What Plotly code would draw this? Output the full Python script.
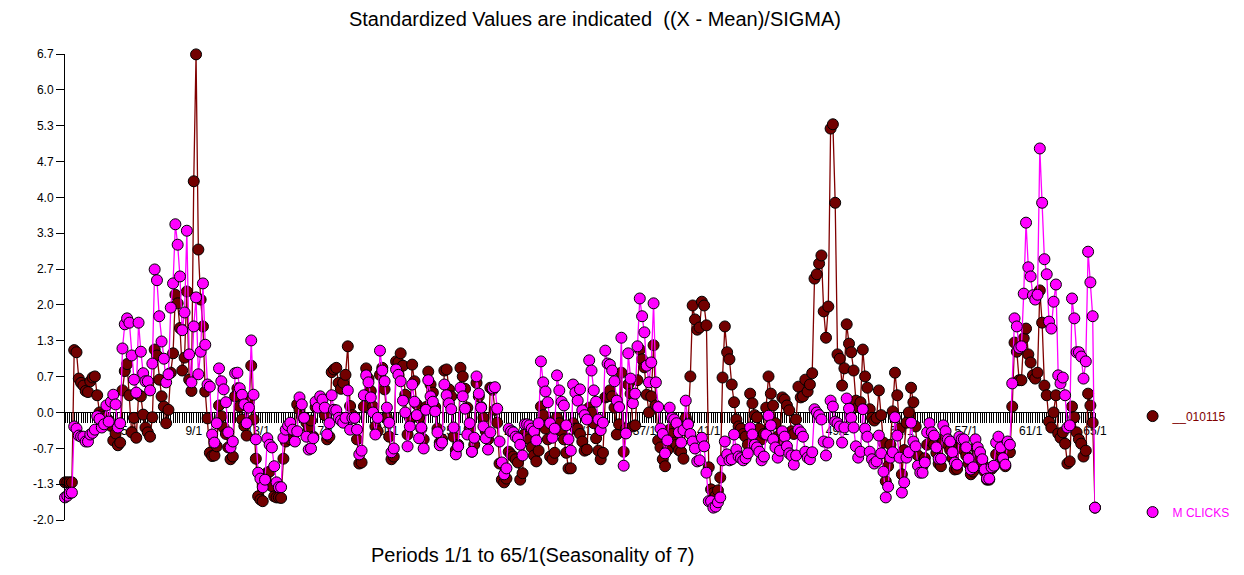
import plotly.graph_objects as go

title_text = "Standardized Values are indicated\u00a0\u00a0((X - Mean)/SIGMA)"
x_title_text = "Periods 1/1 to 65/1(Seasonality of 7)"
series_a_name = "__010115"
series_b_name = "M CLICKS"
seasonality = 7
weeks = 65

series_a = [
    -1.3,-1.3,-1.3,-1.3,1.16,1.12,.63,
    .55,.5,.4,.38,.58,.65,.67,
    .32,0,-.05,-.08,-.1,-.15,-.25,
    -.52,-.39,-.61,-.56,.41,.77,.9,
    .32,-.37,-.1,-.47,.33,.3,-.04,
    -.28,-.37,-.45,-.09,1.17,1.06,.61,
    .3,.11,-.2,.05,.74,1.1,2.19,
    2.03,1.57,.78,1.02,2.25,.61,.4,
    4.3,6.66,3.03,2.1,1.6,.39,-.11,
    -.75,-.81,-.8,-.63,.13,-.07,-.28,
    -.4,-.65,-.87,-.82,.3,.45,.11,
    -.13,-.25,-.43,.2,.87,-.13,-.86,
    -1.56,-1.62,-1.65,-1.25,-1.12,-1.1,-1.37,
    -1.56,-1.58,-1.58,-1.59,-.86,-.54,-.4,
    -.5,-.45,-.35,.15,.05,-.07,-.1,
    -.19,-.3,-.15,-.45,.1,.15,.2,
    .1,-.05,-.5,-.45,.75,.8,.83,
    .55,.44,.55,.7,1.23,.12,-.05,
    -.1,-.5,-.95,-.93,.11,.82,.63,
    .4,.11,-.26,-.35,.7,.83,.43,
    -.1,-.45,-.87,-.82,.95,.93,1.1,
    .87,.33,-.41,-.1,.89,.58,.15,
    -.1,-.3,-.5,.1,.76,.52,.37,
    .1,-.3,-.56,-.5,.78,.8,.43,
    .3,-.45,-.7,-.6,.83,.67,.44,
    .09,-.3,-.73,-.6,.55,.3,.1,
    -.1,-.35,-.5,.46,.42,.05,-.19,
    -.95,-1.25,-1.3,-1.23,-.73,-.78,-.82,
    -.87,-.93,-1.25,-1.13,-.4,-.45,-.5,
    -.65,-.8,-.91,-.71,.11,-.05,-.3,
    -.5,-.82,-.87,-.75,-.1,-.2,-.35,
    -.5,-.75,-1.04,-1.04,-.2,-.3,-.3,
    -.4,-.54,-.71,-.69,.09,0,-.2,
    -.48,-.71,-.87,-.75,.28,.3,.41,
    .3,.09,-.41,-.22,.74,-.73,-.3,
    .52,.35,-.26,-.24,.6,1.17,.99,
    .84,.33,0,.3,1.25,.13,-.52,
    -.65,-.87,-1,-.7,-.32,-.4,-.56,
    -.6,-.7,-.73,-.86,-.1,-.2,.67,
    1.99,1.73,1.54,1.58,2.06,1.99,1.62,
    -1.02,-1.43,-1.5,-1.55,-1.45,-1.21,.65,
    1.6,1.12,.99,.52,.19,-.13,-.26,
    -.3,-.4,-.45,-.6,.35,.17,-.05,
    -.09,-.3,-.5,-.4,.09,.67,.35,
    .13,-.2,-.45,-.5,.28,.24,.13,
    .04,-.35,-.4,-.13,.48,.28,.3,
    .61,.39,.52,.73,2.49,2.57,2.77,
    2.92,1.88,1.39,1.97,5.28,5.36,3.9,
    1.08,1,.5,.82,1.64,1.28,1.12,
    .78,.22,.1,.19,1.17,.67,.46,
    .06,-.1,-.15,-.1,.41,-.05,-.56,
    -1.28,-1,-.6,.02,.74,.32,-.3,
    -1.15,-.7,-.19,0,.46,.19,-.26,
    -.8,-.95,-1,-.85,-.6,-.4,-.55,
    -.6,-.75,-.95,-1,-.55,-.45,-.6,
    -.7,-.85,-1.06,-1.05,-.6,-.6,-.7,
    -.8,-.95,-1.15,-1.1,-.65,-.75,-.85,
    -.95,-1.1,-1.25,-1.25,-1.05,-1,-.78,
    -.55,-.7,-.9,-1,-.7,-.74,.11,
    1.3,1.13,.6,.6,1.38,1.56,1.08,
    .93,.69,.63,.74,2.27,1.67,.5,
    .32,-.17,-.28,0,.32,-.39,-.47,
    -.37,-.58,-.95,-.91,.11,-.09,-.37,
    -.5,-.58,-.82,-.71,.35,.13,-.19,
    -1.77,
]

series_b = [
    -1.58,-1.55,-1.5,-1.49,-.26,-.3,-.43,
    -.45,-.45,-.54,-.54,-.41,-.38,-.32,
    -.07,-.12,-.28,-.22,.13,-.17,.2,
    .33,.15,-.28,-.2,1.19,1.64,1.75,
    1.67,1.06,.61,.37,1.67,1.13,.73,
    .58,.58,.41,.91,2.66,2.46,1.79,
    1.32,1,.56,.71,1.95,2.4,3.5,
    3.12,2.53,1.53,1.86,3.38,1.08,.56,
    1.6,2.14,.71,1.13,2.4,1.26,.52,
    .48,-.41,-.56,-.2,.82,.58,.43,
    .19,-.37,-.65,-.54,.73,.74,.45,
    .33,.15,-.2,.09,1.34,.33,-.5,
    -1.12,-1.23,-1.39,-1.25,-.48,-.6,-.65,
    -1,-1.3,-1.39,-1.39,-.47,-.32,-.24,
    -.19,-.32,-.54,-.35,.28,.15,-.1,
    -.45,-.69,-.67,-.48,.2,.09,.3,
    .24,.09,-.41,-.2,.32,.05,.04,
    -.1,-.15,-.19,-.1,.41,-.32,-.1,
    -.1,-.32,-.78,-.71,.32,.69,.56,
    .28,0,-.41,-.1,1.15,.78,.58,
    .09,-.19,-.74,-.67,.8,.7,.58,
    .22,0,-.63,-.26,.52,.2,-.05,
    -.48,-.28,-.67,.05,.6,.3,.2,
    .02,-.37,-.61,-.56,.52,.32,.17,
    .06,-.28,-.78,-.63,.46,.3,.07,
    -.41,-.2,-.73,-.47,.67,.35,.09,
    -.26,-.48,-.69,-.37,.45,.47,.07,
    -.54,-.93,-1.15,-1.04,-.3,-.35,-.37,
    -.45,-.48,-.6,-.8,-.22,-.22,-.24,
    -.3,-.35,-.52,-.2,.95,.56,.39,
    .19,-.2,-.47,-.3,.69,.41,.2,
    .13,-.24,-.5,-.71,.52,.37,.22,
    .43,.04,-.05,-.13,.97,.78,.41,
    .2,-.13,-.33,-.19,1.15,.91,.89,
    .78,.58,.22,.1,1.39,-.99,-.39,
    1.1,.63,.17,.35,1.23,2.12,1.79,
    1.49,.87,.56,.93,2.03,.56,.1,
    -.3,-.4,-.76,-.52,.09,-.1,-.13,
    -.2,-.37,-.56,-.33,.22,-.22,-.4,
    -.54,-.67,-.91,-.89,-.47,-.63,-1.12,
    -1.65,-1.65,-1.77,-1.75,-1.67,-1.58,-.89,
    -.54,-.78,-.89,-.87,-.41,-.69,-.82,
    -.85,-.89,-.85,-.76,-.28,-.41,-.6,
    -.65,-.73,-.89,-.82,-.41,-.06,-.24,
    -.5,-.65,-.84,-.71,-.35,-.45,-.63,
    -.76,-.8,-.97,-.8,-.32,-.37,-.45,
    -.73,-.84,-.87,-.74,.06,0,-.05,
    -.13,-.54,-.8,-.56,.22,.11,-.17,
    -.2,-.26,-.56,-.28,.26,.07,-.1,
    -.28,-.63,-.84,-.73,.06,-.3,-.45,
    -.73,-.87,-.95,-.91,-.43,-.76,-1.1,
    -1.58,-1.38,-.84,-.74,-.09,-.43,-.84,
    -1.49,-1.3,-.84,-.74,-.19,-.54,-.63,
    -.99,-1.12,-1.12,-.93,-.37,-.2,-.37,
    -.43,-.65,-.86,-.86,-.24,-.35,-.5,
    -.54,-.74,-.93,-.97,-.45,-.5,-.5,
    -.65,-.86,-1.06,-1.02,-.5,-.65,-.74,
    -.87,-1.06,-1.23,-1.23,-1.02,-.99,-.56,
    -.45,-.65,-.85,-.97,-.54,-.6,.54,
    1.75,1.6,1.2,1.23,2.21,3.53,2.7,
    2.53,2.18,2.1,2.19,4.91,3.9,2.85,
    2.57,1.69,1.56,2.06,2.38,.69,.54,
    .65,.32,-.28,-.24,2.12,1.75,1.12,
    1.12,1.04,.63,.95,2.99,2.42,1.79,
    -1.77,
]

y_tick_vals = [6.667, 6, 5.333, 4.667, 4, 3.333, 2.667, 2, 1.333, 0.667, 0, -0.667, -1.333, -2]
y_tick_text = ["6.7", "6.0", "5.3", "4.7", "4.0", "3.3", "2.7", "2.0", "1.3", "0.7", "0.0", "-0.7", "-1.3", "-2.0"]
x_label_weeks = list(range(5, 66, 4))

periods = list(range(1, (weeks - 1) * seasonality + 2))
assert len(series_a) == len(periods), len(series_a)
assert len(series_b) == len(periods), len(series_b)
labelled = {(w - 1) * seasonality + 1: f"{w}/1" for w in x_label_weeks}
x_tick_text = [labelled.get(p, "") for p in periods]

FONT = "Arial, 'Liberation Sans', sans-serif"
DARK_LINE = "#800000"
DARK_MARK = "#720000"
MAG = "#ff00ff"

fig = go.Figure()
for name, vals, lc, mc, leg in [
    (series_a_name, series_a, DARK_LINE, DARK_MARK, "legend"),
    (series_b_name, series_b, MAG, MAG, "legend2"),
]:
    fig.add_trace(go.Scatter(x=periods, y=vals, mode="lines", showlegend=False,
                             line=dict(color=lc, width=1.3), cliponaxis=False, hoverinfo="skip"))
    fig.add_trace(go.Scatter(x=periods, y=vals, mode="markers", name=name, legend=leg,
                             marker=dict(color=mc, size=11, line=dict(color="black", width=1)),
                             cliponaxis=False))

fig.update_layout(
    width=1236, height=567, autosize=False,
    margin=dict(l=57, r=148.6, t=46, b=55, autoexpand=False),
    paper_bgcolor="white", plot_bgcolor="white",
    font=dict(family=FONT, color="black", size=12),
    title=dict(text=title_text, x=587 / 1236, xanchor="center", y=1 - 11 / 567, yanchor="middle",
               font=dict(family=FONT, size=20, color="black")),
    xaxis=dict(range=[1, periods[-1]], anchor="free", position=2 / 8.667, layer="below traces",
               tickmode="array", tickvals=periods, ticktext=x_tick_text, tickangle=0,
               ticks="outside", ticklen=10, tickwidth=1, tickcolor="black", ticklabelstandoff=-3,
               showline=True, linecolor="black", linewidth=1, showgrid=False, zeroline=False,
               tickfont=dict(family=FONT, size=12, color="black")),
    yaxis=dict(range=[-2, 6.667], tickmode="array", tickvals=y_tick_vals, ticktext=y_tick_text,
               ticks="outside", ticklen=8, tickwidth=1, tickcolor="black",
               showline=True, linecolor="black", linewidth=1, showgrid=False, zeroline=False,
               tickfont=dict(family=FONT, size=12, color="black")),
    legend=dict(x=1.0365, xanchor="left", y=0.223, yanchor="middle", bgcolor="rgba(0,0,0,0)",
                font=dict(family=FONT, size=12, color=DARK_LINE)),
    legend2=dict(x=1.0365, xanchor="left", y=0.017, yanchor="middle", bgcolor="rgba(0,0,0,0)",
                 font=dict(family=FONT, size=12, color=MAG)),
    annotations=[dict(text=x_title_text, xref="paper", yref="paper", x=(533 - 65) / 1030.4, y=-35 / 466,
                      xanchor="center", yanchor="middle", showarrow=False,
                      font=dict(family=FONT, size=20, color="black"))],
)

fig.write_html("out.html")
